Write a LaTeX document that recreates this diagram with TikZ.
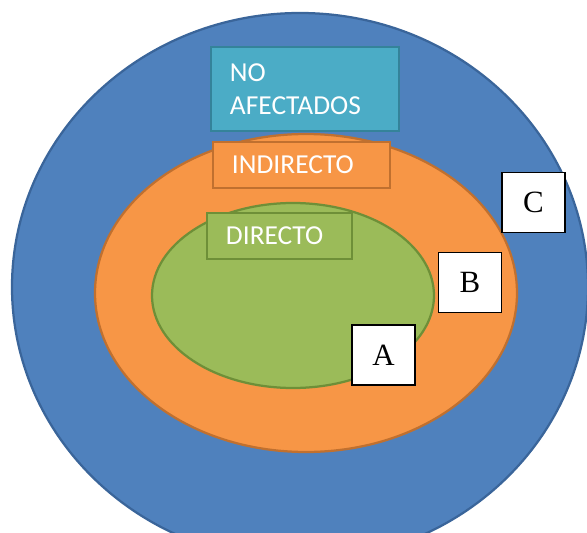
\documentclass[tikz,border=0pt]{standalone}
\usepackage{fontspec}
\setmainfont{Liberation Serif}
\newfontfamily\areafont{Carlito}
\definecolor{azul}{HTML}{4F81BD}
\definecolor{azulborde}{HTML}{3A659A}
\definecolor{naranja}{HTML}{F79646}
\definecolor{naranjaborde}{HTML}{C0702F}
\definecolor{verde}{HTML}{9BBB59}
\definecolor{verdeborde}{HTML}{6E8F38}
\definecolor{turquesa}{HTML}{4BACC6}
\definecolor{turquesaborde}{HTML}{34839A}
\tikzset{
  letterbox/.style={draw=black, line width=1.4pt, fill=white, minimum width=1.575cm,
    minimum height=1.5cm, inner sep=0pt, font=\fontsize{22}{26}\selectfont},
  areabox/.style={line width=2pt, text=white, inner ysep=0pt, inner xsep=0.475cm, align=left,
    font=\areafont\fontsize{19.5}{23.5}\selectfont}
}

\begin{document}
\begin{tikzpicture}[x=0.025cm, y=-0.025cm]
			%%%%% START %%%%%
			\useasboundingbox (0, 0) rectangle (587, 533);
			\clip (0, 0) rectangle (587, 533);
			
			% the three zones
			\draw[fill=azul, draw=azulborde, line width=1.6pt] (300, 287) ellipse [x radius=288, y radius=274];
			\draw[fill=naranja, draw=naranjaborde, line width=1.6pt] (306, 293) ellipse [x radius=211, y radius=159];
			\draw[fill=verde, draw=verdeborde, line width=1.6pt] (293, 295.5) ellipse [x radius=141, y radius=92.5];
			
			% zone labels
			\node[areabox, fill=turquesa, draw=turquesaborde, text width=3.75cm, minimum height=2.1cm] (noafect) at (305, 89) {NO\\AFECTADOS};
			\node[areabox, fill=naranja, draw=naranjaborde, text width=3.475cm, minimum height=1.15cm] (indir) at (301.5, 165) {INDIRECTO};
			\node[areabox, fill=verde, draw=verdeborde, text width=2.675cm, minimum height=1.15cm] (dir) at (279.5, 236) {DIRECTO};
			
			% letters
			\node[letterbox] (A) at (383.5, 355) {A};
			\node[letterbox] (B) at (470, 282.5) {B};
			\node[letterbox] (C) at (533.5, 202.5) {C};
			
			%%%%% END %%%%%
		\end{tikzpicture}
\end{document}
